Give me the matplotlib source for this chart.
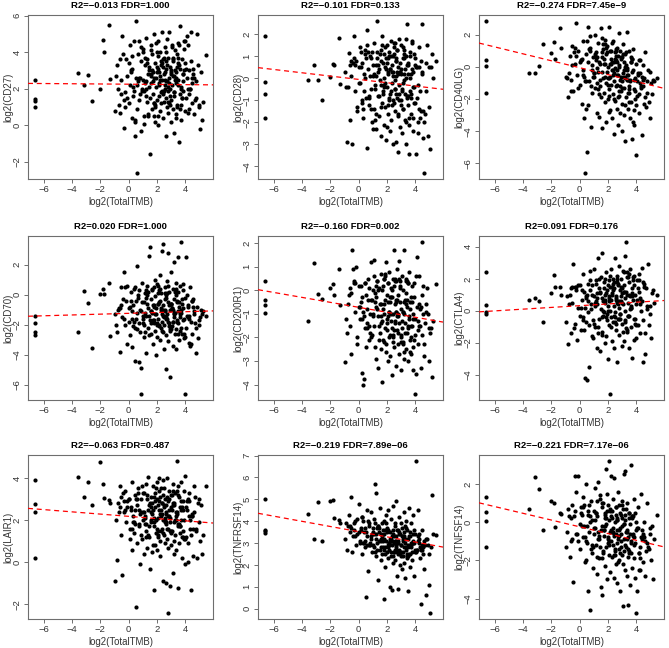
import matplotlib
matplotlib.use('Agg')
import matplotlib.pyplot as plt
import numpy as np

plt.rcParams['font.family'] = ['Liberation Sans', 'DejaVu Sans']

# TotalTMB (shared by all panels): low-TMB outliers first, then the bulk
tmb_low = [-6.64, -6.64, -6.64, -6.64, -3.55, -3.15, -2.85, -2.6, -2.05, -1.8, -1.75, -1.35, -1.3]
tmb_bulk = [
    -0.95, -0.82, -0.71, -0.64, -0.52, -0.45, -0.33, -0.27, -0.18, -0.09, 0.02, 0.08, 0.14, 0.21,
    0.27, 0.33, 0.38, 0.44, 0.51, 0.57, 0.62, 0.68, 0.74, 0.79, 0.85, 0.91, 0.96, 1.03,
    1.07, 1.12, 1.16, 1.22, 1.27, 1.31, 1.36, 1.41, 1.45, 1.49, 1.54, 1.58, 1.62, 1.66,
    1.69, 1.73, 1.77, 1.80, 1.84, 1.87, 1.91, 1.94, 1.98, 2.01, 2.04, 2.07, 2.11, 2.14,
    2.17, 2.20, 2.23, 2.26, 2.29, 2.32, 2.35, 2.38, 2.41, 2.44, 2.47, 2.50, 2.53, 2.56,
    2.59, 2.62, 2.65, 2.68, 2.71, 2.74, 2.77, 2.80, 2.83, 2.86, 2.89, 2.92, 2.95, 2.98,
    3.01, 3.04, 3.07, 3.10, 3.13, 3.16, 3.19, 3.22, 3.25, 3.28, 3.31, 3.34, 3.37, 3.40,
    3.43, 3.47, 3.51, 3.55, 3.59, 3.63, 3.67, 3.71, 3.75, 3.79, 3.83, 3.88, 3.93, 3.98,
    4.03, 4.09, 4.15, 4.21, 4.28, 4.35, 4.42, 4.50, 4.58, 4.66, 4.75, 4.85, 4.96, 5.08,
    -0.88, -0.41, -0.12, 0.11, 0.47, 0.71, 0.93, 1.19, 1.39, 1.61, 1.83, 2.02, 2.24, 2.46,
    2.63, 2.79, 2.94, 3.09, 3.24, 3.39, 3.53, 3.69, 3.86, 4.05, 4.24, 4.47, 4.71, 5.21,
    -0.6, 0.35, 0.58, 1.25, 1.72, 2.09, 2.36, 2.57, 2.73, 3.15, 3.45, 3.78, 4.38, 5.5,
    0.16, 0.42, 0.66, 0.88, 1.09, 1.29, 1.47, 1.64, 1.79, 1.96, 2.12, 2.27, 2.42, 2.58,
    2.69, 2.84, 2.97, 3.12, 3.27, 3.42, 3.58, 3.73, 3.91, 4.12, 4.31, 4.55, 4.91, 5.28,
    -0.75, -0.22, 0.24, 0.55, 0.82, 1.14, 1.34, 1.56, 1.76, 1.89, 2.06, 2.19, 2.31, 2.49,
    2.61, 2.76, 2.88, 3.03, 3.18, 3.33, 3.49, 3.65, 3.82, 3.96, 4.18, 4.4, 4.62, 5.0,
    -0.35, 0.06, 0.49, 0.77, 1.01, 1.21, 1.43, 1.6, 1.82, 2.0, 2.15, 2.34, 2.52, 2.67,
    2.82, 3.0, 3.2, 3.36, 3.52, 3.68, 3.85, 4.0, 4.26, 4.52, 4.8, 5.15, -0.5, 1.0]
tmb = np.array(tmb_low + tmb_bulk)

genes = ['CD27', 'CD28', 'CD40LG', 'CD70', 'CD200R1', 'CTLA4', 'LAIR1', 'TNFRSF14', 'TNFSF14']
r2_txt = ['\u22120.013', '\u22120.101', '\u22120.274', '0.020', '\u22120.160', '0.091',
          '\u22120.063', '\u22120.219', '\u22120.221']
fdr_txt = ['1.000', '0.133', '7.45e\u22129', '1.000', '0.002', '0.176', '0.487',
           '7.89e\u221206', '7.17e\u221206']
# fitted lines: intercept, slope
fit_a = [2.25, -0.05, -0.05, -1.24, -0.72, 0.32, 2.18, 3.52, -0.24]
fit_b = [-0.006, -0.075, -0.215, 0.027, -0.105, 0.054, -0.053, -0.118, -0.176]
yticks = [[-2, 0, 2, 4, 6], [-4, -3, -2, -1, 0, 1, 2], [-6, -4, -2, 0, 2], [-6, -4, -2, 0, 2],
          [-4, -3, -2, -1, 0, 1, 2], [-4, -2, 0, 2, 4], [-2, 0, 2, 4], [0, 1, 2, 3, 4, 5, 6, 7],
          [-4, -2, 0, 2]]

cd27 = [2.5, 1.45, 1.35, 1.0, 2.85, 2.2, 2.75, 1.35, 2.0, 4.65, 4.0, 5.5, 2.55,
    0.8, 3.3, 1.1, 0.7, 2.5, 4.9, -0.15, 1.8, 3.6, 2.7, 1.2, 4.4, 2.9, 0.4,
    3.1, 1.6, 4.6, 0.3, 5.7, 2.2, 0.9, 3.9, 1.4, 2.6, -0.3, 3.5, 2.0, 4.2,
    1.9, 0.1, 3.7, 2.4, 4.8, 1.3, 2.8, 0.6, 3.2, -1.55, 1.5, 4.1, 2.3, 0.9,
    3.0, 1.7, 5.0, 2.6, 0.2, 3.4, 1.0, 2.1, 4.5, 1.4, 2.9, 0.5, 3.8, 2.2,
    1.6, 4.0, 2.7, 0.8, 3.3, 1.2, 2.5, 5.1, 1.8, 3.6, 0.4, 2.8, 1.3, 4.3,
    2.0, -0.6, 3.1, 1.5, 4.7, 2.4, 0.7, 3.7, 1.9, 2.6, 5.1, 1.1, 3.2, 0.2,
    2.9, 1.4, 4.4, 2.2, 0.9, 3.5, -0.4, 2.7, 1.6, 4.1, 3.0, 0.6, 2.3, 3.9,
    1.0, 4.5, 2.5, -0.9, 3.3, 1.7, 5.45, 2.1, 0.3, 3.6, 1.9, 2.8, 4.2, 0.8,
    3.4, 1.5, 2.6, 4.4, 0.9, 2.0, 5.1, 1.2, 3.1, 0.6, 2.4, 5.0, 1.0, -0.2,
    2.7, 3.9, 1.5, 2.2, -0.6, 4.6, 1.9, 3.3, 0.5, 2.8, 1.2, 4.0, 2.5, 1.7,
    3.5, 1.3, 2.0, 4.3, 1.8, 2.9, 3.7, 1.1, 2.4, 3.1, 0.7, 2.6, 1.4, 0.3,
    3.6, 2.1, -2.6, 1.6, 2.9, 0.0, 3.4, 2.2, 1.0, 2.7, 3.2, 1.5, 2.0, 3.85,
    3.0, 1.9, 2.4, 4.3, 0.5, 3.4, 2.1, 3.9, 1.2, 2.6, 4.6, 1.8, 3.2, 2.9,
    4.0, 2.3, 1.6, 3.7, 2.5, 1.1, 4.4, 2.0, 3.0, 4.9, 1.7, 2.8, 3.3, 1.3,
    2.0, 1.0, 3.8, 2.6, 1.7, 2.3, 3.6, 4.4, 2.4, 1.1, 3.1, 2.9, 3.5, 1.9,
    2.5, 3.3, 1.2, 2.8, 3.6, 0.4, 2.2, 3.1, 1.5, 4.6, 2.0, 3.5, 2.6, 1.1,
    1.4, 3.4, 0.2, 2.6, 4.0, 2.0, 3.0, 2.7, 0.5, 3.2, 2.3, 1.9, 3.7, 2.4,
    2.1, 3.0, 1.8, 2.6, 3.4, 0.9, 2.8, 4.6, 3.0, 2.3, 1.5, 2.9, 1.7, 2.5]
cd28 = [1.9, -0.15, -0.7, -1.8, -0.1, 0.6, -0.1, -1.0, 0.05, 0.65, 0.6, 1.85, -0.25,
    0.3, -2.9, 1.15, -1.9, 0.1, -3.0, 1.9, -0.6, 0.8, -1.5, 0.5, -0.2, 1.2, -1.0,
    0.7, -1.8, 0.2, 1.3, -0.9, 2.2, -3.15, 0.4, -1.2, 1.0, -0.5, 0.9, -2.0, 0.1,
    -1.4, 1.6, -0.3, 0.6, -2.3, 2.6, -0.8, 0.3, -1.7, 1.1, -0.1, -2.6, 0.8, -1.1,
    1.9, -0.6, 0.0, -2.1, 1.4, -1.3, 0.5, -2.8, 0.9, -0.4, 1.5, -1.6, 0.2, -0.9,
    1.2, -2.4, 0.4, -0.7, 1.7, -1.9, 0.6, -0.2, 1.0, -3.0, 0.3, -1.1, 1.6, -0.5,
    -1.5, 0.8, -2.9, 0.1, 1.3, -0.9, -3.35, 0.5, -1.7, 1.8, -0.3, 0.7, -2.2, 0.2,
    -1.0, 1.5, -0.6, -2.5, 0.9, -1.4, 0.2, -0.1, 1.1, -1.9, 0.4, -3.0, 1.8, -0.8,
    2.45, -1.2, 0.6, -2.1, -3.45, 0.0, 1.0, -0.7, -1.6, 1.7, 0.3, -2.4, -0.4, 0.9,
    -1.1, -3.45, 0.5, -2.0, 1.4, -0.6, -1.5, 2.45, -2.7, -4.3, 0.7, 1.5, -1.3, -3.2,
    -0.4, 0.7, -1.3, 1.4, 0.0, -0.8, 1.2, -1.9, 0.6, -0.3, 1.1, -2.2, 0.4, -1.0,
    0.9, -1.6, 0.3, -0.5, 1.3, -2.0, 0.7, -0.9, -1.8, 0.5, -2.5, 0.2, -1.6, 1.1,
    0.6, -1.4, 1.5, 0.1, -0.7, 0.9, -1.2, 1.6, 0.3, -0.2, -0.9, 0.4, -1.8, 0.8,
    0.5, -0.6, 1.2, -1.4, 0.2, 0.9, -0.8, 1.5, -0.3, 0.4, -1.2, 1.0, 0.1, -0.5,
    0.8, -1.0, 0.3, 1.4, -0.7, 0.6, -1.8, 0.2, 1.1, -0.9, 0.5, -1.5, -2.6, 0.0,
    -0.4, 0.6, -1.1, 0.9, 0.1, -0.5, 1.2, -1.3, 0.7, -0.2, 0.3, 1.0, -0.6, 1.4,
    -0.1, 1.3, -0.7, 0.4, -1.4, 1.0, 0.2, -0.6, 1.6, -1.1, -0.3, 0.8, -2.0, 0.5,
    0.9, -0.2, 1.1, -0.9, 0.6, -1.6, 0.4, 1.3, -0.4, 0.7, -1.0, 0.3, 1.1, -0.7,
    0.2, -1.2, 0.9, 0.0, -0.8, 1.2, -0.4, 0.6, -1.4, 0.3, -0.6, 0.5, 0.8, -2.3]
cd40lg = [2.85, 0.4, 0.05, -1.65, -0.4, -0.4, 0.05, 1.45, 0.85, 1.55, 0.5, 2.4, 1.2,
    -0.6, -1.9, 0.7, -0.8, 1.3, -1.5, 0.2, 2.7, -0.5, 1.0, -1.1, 0.4, -2.3, 1.6,
    -0.2, -3.2, -6.6, 0.8, -5.3, -2.4, 2.5, -0.9, 1.2, -3.75, 0.1, -1.6, 0.6, -0.4,
    2.0, -1.3, 0.9, -2.9, -0.1, 1.5, -3.1, 0.3, -0.8, 2.4, -1.9, 0.6, -3.8, 1.1,
    -0.7, 0.2, -2.2, 1.7, -1.0, -3.4, 0.8, -0.3, 1.3, -2.0, 0.0, -1.4, 2.5, -0.6,
    -2.7, 0.5, -1.1, 1.0, -3.2, -0.2, 1.6, -1.7, 0.3, -0.9, -4.2, 0.9, -2.1, 0.4,
    -1.2, 1.2, -2.6, -0.5, 0.7, -3.6, -1.8, 0.1, 2.1, -0.8, -2.9, 0.5, -1.5, -4.0,
    0.6, -2.3, -0.4, 1.4, -1.3, -3.0, 0.0, -0.7, -4.6, 0.9, -1.9, -0.2, 2.2, -2.6,
    -0.5, -1.6, 1.0, -3.2, -0.9, 0.3, -2.2, -4.5, -0.3, 1.1, -1.4, -2.7, -0.7, 0.2,
    -5.5, -1.8, -0.5, -2.9, 0.4, -1.3, -4.25, -0.8, -2.3, 0.9, -1.6, -0.2, -3.2, -1.0,
    -0.7, 0.9, -1.3, 0.4, -2.6, 1.9, -0.6, 0.6, -1.7, -0.3, 1.4, -1.1, 0.2, -2.0,
    0.3, -1.5, -0.6, 0.8, -2.4, -0.1, -1.2, 0.5, -3.6, -0.9, -1.7, 0.1, -2.5, -0.8,
    -1.5, -0.6, 0.3, -1.0, 0.5, -2.8, -0.5, 1.0, -1.9, -0.2, -0.8, -3.4, -1.2, -0.7,
    0.5, -0.9, 1.1, -0.2, 0.8, -1.4, 0.2, 1.4, -0.6, 0.9, -1.8, 0.3, -0.4, 1.1,
    -0.2, -1.2, 0.6, -0.6, 0.1, -1.6, -0.8, 0.5, -2.0, -0.4, -1.0, -0.7, -2.2, -0.9,
    -0.4, 0.7, -0.5, 1.6, -1.2, 0.4, -0.3, 0.9, -1.6, 1.2, -0.7, 0.2, 1.5, -0.1,
    0.7, -0.5, 1.0, -1.3, 0.3, -0.8, -2.2, 0.6, -0.2, -1.5, 0.4, -0.6, -1.9, -0.3,
    1.2, 0.3, -0.9, 1.0, -0.4, 0.6, -1.2, 1.8, 0.2, -0.7, 1.0, -0.2, 0.5, -1.1,
    0.0, -0.9, 0.8, -0.5, -1.4, 0.3, -0.8, -2.4, -0.4, -1.2, -0.9, -1.7, 0.1, -0.6]
cd70 = [-1.45, -1.85, -2.5, -2.7, -2.45, 0.27, -0.58, -3.56, 0.04, 0.36, 0.04, 0.76, -2.77,
    -1.3, -2.5, -0.9, -3.8, 0.5, -1.5, 1.5, -2.0, -0.4, 0.6, -1.8, -2.7, 0.2, -1.1,
    -3.5, -0.7, 0.4, -4.4, -1.6, 1.9, -2.3, -0.2, -4.5, -1.0, -6.6, -4.9, 0.8, -1.9,
    -0.5, -2.8, 0.1, -1.4, -3.9, 0.6, -0.9, -2.2, 2.6, -1.7, 3.2, -0.3, -2.6, -1.2,
    0.4, -3.3, -0.8, -1.9, 1.0, -2.4, -0.1, -4.0, -1.3, 0.7, -2.8, -0.6, -1.6, 0.3,
    -2.1, -0.4, 1.3, -3.0, -1.0, 0.1, -1.8, 2.9, -2.5, -0.7, 3.35, -1.4, -3.6, 0.5,
    -1.1, -0.2, -2.7, -4.95, 0.9, -1.6, -0.5, -3.1, 2.8, -1.9, 0.2, -5.5, -1.0, -2.3,
    -0.6, 1.5, -2.1, -0.9, -3.4, 0.4, -1.5, -0.3, 2.2, -2.6, -1.2, 0.8, -3.6, -1.7,
    -0.4, 2.5, -1.9, -0.8, -3.0, 0.6, -1.3, 3.5, -2.2, -0.6, 0.3, -1.7, -2.9, -0.2,
    -6.6, 2.5, -1.4, -0.7, -3.2, 0.5, -1.8, -2.6, -0.3, -1.1, -3.9, -0.8, -2.0, -1.5,
    -2.0, -0.3, -3.3, -0.8, 0.5, -1.9, -0.5, -2.5, 0.2, -1.1, -0.7, -2.0, 0.4, -1.4,
    -1.6, 0.6, -2.3, -0.9, -1.3, 0.0, -2.6, -1.0, 0.7, -2.2, -1.5, -0.4, -1.9, -1.3,
    -0.9, -2.1, -1.2, 0.3, -1.7, -0.6, -2.4, -1.0, 0.1, -1.8, -0.5, -2.6, -3.4, -1.4,
    -0.4, -1.8, 0.0, -1.1, -2.0, -0.6, -1.4, 0.3, -1.7, -0.9, 0.1, -2.2, -1.0, -0.3,
    -1.5, -0.7, -2.4, -1.0, 0.2, -1.8, -0.5, -1.2, -2.6, 0.0, -1.6, -0.8, -2.9, -1.1,
    -1.0, 0.5, -1.6, -0.4, -2.5, -1.2, 0.0, -1.9, -0.7, -1.3, 0.6, -2.0, -0.9, -1.5,
    0.1, -1.3, -2.1, -0.6, -1.8, 0.4, -1.1, -2.4, -0.3, -1.6, -0.8, -3.3, -1.3, -1.7,
    -1.6, -0.9, -2.2, 0.3, -1.4, -0.2, -2.7, -1.1, 0.5, -1.9, -0.5, -1.3, -2.0, 0.0,
    -1.8, -0.6, -1.2, -2.3, 0.2, -1.5, -0.9, -2.8, -1.4, -0.4, -2.2, -1.0, -0.7, -1.6]
cd200r1 = [0.4, -0.41, -0.62, -0.95, -1.3, 1.18, -0.16, -0.35, 0.11, 0.26, -0.18, 0.91, -0.62,
    -3.05, -1.8, -0.2, -1.5, -2.7, 1.7, 0.4, -0.9, 1.0, -2.3, 0.2, -1.2, -0.5, -0.3,
    -3.5, -4.0, -3.75, 0.3, -2.4, -0.8, -1.6, 0.5, -2.1, -1.0, 1.2, -0.4, -1.9, 0.0,
    1.3, -1.5, -0.1, -2.9, -0.7, 0.4, -1.1, -3.3, 0.1, -1.8, -0.6, 0.7, -2.5, -1.3,
    -3.9, 0.2, -1.0, -2.2, 0.6, -0.4, -1.6, 1.2, -2.6, -0.2, -1.2, 0.3, -3.0, -0.9,
    0.8, -1.9, -0.5, -2.8, 0.1, -1.3, -3.6, -0.3, 0.5, -2.0, -1.0, 1.7, -2.4, -0.6,
    -1.4, 0.4, -3.2, -0.9, -1.7, 0.9, -2.3, -0.2, -1.1, 1.25, -2.7, -0.5, 0.2, -1.9,
    -3.4, -0.8, 0.6, -1.6, -2.2, 0.0, -1.0, 1.7, -2.9, -0.4, -1.4, 0.5, -2.5, -0.7,
    -1.8, 0.3, -3.0, -1.1, 0.8, -2.1, -0.5, -1.5, -2.7, 0.2, -1.2, -3.4, -0.3, -1.9,
    -4.4, -3.55, 1.4, -2.3, 0.6, -1.5, -3.3, 2.05, -1.0, -2.8, -0.6, 0.1, -3.0, -1.8,
    -1.2, 0.9, -2.0, -0.7, 0.3, -1.5, -0.4, -2.4, 0.0, -1.1, 0.5, -1.7, -0.3, -2.2,
    -0.9, -1.8, 0.4, -1.3, -2.6, -0.6, 0.3, -2.0, -1.0, 0.6, -1.7, -0.2, -1.4, -3.7,
    0.1, -0.9, -1.4, 0.2, -2.1, -0.5, -1.6, 0.4, -1.1, -2.3, -0.4, -1.5, -0.8, 0.25,
    0.2, -1.1, -0.4, -2.0, 0.6, -0.8, -1.5, 0.0, -0.6, -2.3, 0.3, -1.0, -1.9, 0.5,
    -0.5, -1.4, 0.1, -0.9, -1.8, 0.4, -1.2, -0.3, -2.1, -0.7, -1.5, 0.2, -1.0, -1.3,
    -0.6, 0.3, -1.2, -0.2, -1.8, -0.5, 0.4, -1.4, -0.8, 0.7, -1.1, -2.0, -0.3, 0.2,
    -1.3, -0.4, 0.5, -2.2, -0.9, -0.1, -1.6, -2.6, -0.5, 0.3, -1.3, -0.7, -2.3, -1.6,
    0.3, -0.7, -1.6, 0.1, -1.0, -0.3, -2.1, -0.6, 0.5, -1.4, -0.9, 0.0, -1.7, -0.4,
    -1.0, -2.0, -0.5, 0.4, -1.5, -0.8, -2.4, -1.2, -0.6, -1.9, -0.9, -1.6, -0.1, -1.1]
ctla4 = [2.4, 0.34, -0.06, -0.17, 0.67, 0.8, 0.61, -0.67, 1.09, 2.23, 1.51, 1.51, 1.0,
    -0.7, -2.1, 1.0, -1.4, 0.5, 2.9, -0.8, 1.5, -1.8, 0.2, 1.6, -1.2, 0.7, 2.3,
    -0.4, 1.2, -4.2, 0.9, -4.35, 1.7, -0.1, -3.5, 2.5, 0.4, -1.6, 1.0, -0.6, 2.6,
    -1.0, 0.3, 1.9, -2.3, 0.8, 3.3, -0.5, 1.4, -2.5, 0.1, 2.1, -1.3, 3.6, 0.6,
    -0.3, 1.8, -2.0, 0.5, 1.1, -1.6, 2.4, -0.2, 1.3, -3.0, 0.0, 1.9, -0.9, -5.2,
    1.5, -0.4, 2.6, 0.7, -1.9, 1.0, -0.7, 2.0, 0.3, -2.3, 1.4, -0.1, 3.3, 0.8,
    -1.2, 2.2, -3.2, 0.6, 1.7, -0.5, 2.8, 0.2, -1.5, 1.3, -0.2, 2.0, 0.9, -2.2,
    1.1, -0.8, 2.5, 0.4, -1.9, 1.6, 3.4, 0.0, -0.6, 4.3, 1.2, -1.3, 2.1, 0.5,
    -0.3, 1.8, -2.3, 0.9, 2.6, -1.0, 0.3, 1.4, -2.95, 0.7, 2.2, -0.5, 1.0, -1.7,
    0.4, 1.9, -0.9, 2.3, -1.4, 0.6, 2.7, -3.2, 1.5, -2.7, 0.1, 2.9, -0.2, -1.7,
    0.9, -1.1, 1.6, 0.2, -0.7, 1.3, -1.7, 0.6, 2.0, -0.4, 1.0, 0.3, -1.0, 1.8,
    0.5, -0.5, 1.5, -1.3, 0.8, 2.4, -0.3, 1.1, -1.8, 0.7, 1.9, -0.6, 1.4, 1.3,
    1.4, -1.2, 0.6, 1.1, -0.1, 0.8, 1.7, -0.8, 0.4, 1.2, -0.3, 2.1, 0.0, 1.0,
    1.3, 0.2, -0.9, 1.6, 0.5, -1.4, 1.1, 0.0, 2.0, -0.6, 0.9, 1.5, -0.3, 0.7,
    1.8, -0.5, 0.6, 1.2, -1.1, 2.1, 0.1, 0.9, -0.8, 1.4, 0.4, 1.7, -0.9, 0.5,
    0.4, 1.3, -0.6, 1.0, 0.1, 1.7, -1.0, 0.8, 1.4, -0.4, 0.6, 2.2, 1.1, -0.7,
    0.9, 1.6, -0.2, 0.5, 2.4, -1.2, 1.0, 0.2, 1.9, -0.5, 1.2, 0.6, -1.4, 0.3,
    1.5, -0.3, 0.8, 1.9, -0.8, 0.4, 1.2, -1.5, 0.7, 1.6, 0.0, 1.3, -0.4, 2.0,
    0.6, 1.4, -0.7, 1.0, 2.3, 0.2, 1.6, -0.9, 0.8, 1.8, 0.3, 1.1, 1.5, 0.9]
lair1 = [3.92, 2.76, 2.4, 0.21, 4.03, 3.08, 3.79, 2.73, 4.75, 3.7, 3.05, 2.94, 2.83,
    -0.9, 0.1, 2.4, 3.6, 1.3, -0.6, 2.9, 3.4, 1.9, 2.6, 3.0, 1.6, 2.5, 3.8,
    0.6, 2.2, 1.4, 3.2, -2.1, 2.7, 0.9, 3.5, 1.8, -0.1, 2.4, 3.0, 1.1, 2.0,
    3.3, 0.4, 2.1, 1.5, 3.7, 0.7, 2.5, 4.05, 1.2, -0.3, 2.8, 1.9, 3.1, 0.5,
    2.3, 3.6, -1.3, 1.7, 2.6, 0.8, 3.3, 1.4, 2.0, 3.8, 0.6, 2.7, 1.2, 4.0,
    2.5, 1.0, 3.1, 0.3, 2.2, 3.5, 1.6, 2.8, -0.9, 2.0, 3.9, 1.3, 2.6, 0.9,
    3.0, 1.8, -1.0, 2.4, 4.0, 1.1, -2.4, 2.9, 0.7, 2.2, 3.4, -1.1, 1.9, 2.6,
    0.8, 3.2, 1.5, 2.5, -0.5, 3.7, 1.9, 0.4, 2.7, 1.3, 3.3, 2.0, 0.6, 4.8,
    2.4, -1.2, 1.7, 3.1, 0.9, 2.6, 1.4, 3.8, 2.0, 0.2, 2.9, 1.5, 3.4, -0.1,
    4.1, 1.2, 2.5, 0.0, 3.3, 1.6, -1.3, 2.2, 0.3, 3.6, 1.5, 0.2, 3.0, 1.0,
    2.0, 3.3, 2.9, 1.1, 2.5, 1.7, 3.6, 2.2, 1.3, 2.6, 1.9, 3.0, 2.3, 1.4,
    2.7, 1.6, 2.1, 3.2, 1.0, 2.4, 1.8, 2.9, 1.2, 2.6, 0.9, 2.2, 3.1, 0.4,
    2.6, 1.9, 3.0, 1.8, 2.5, 1.3, 2.8, 2.1, 1.6, 3.4, 2.3, 1.2, 2.0, 3.6,
    2.6, 1.9, 3.3, 1.3, 2.4, 3.0, 1.7, 2.8, 2.1, 3.5, 1.5, 2.5, 3.2, 1.9,
    2.3, 3.0, 1.5, 2.7, 2.0, 3.4, 1.8, 2.5, 1.1, 2.9, 2.2, 1.6, 2.8, 1.3,
    2.8, 2.5, 1.6, 3.0, 2.3, 1.8, 3.2, 2.4, 0.8, 2.9, 2.1, 3.4, 1.5, 2.7,
    2.0, 3.1, 2.5, 1.4, 2.8, 2.2, 3.6, 1.7, 2.6, 2.0, 3.0, 1.3, 2.4, 1.9,
    2.4, 3.0, 1.8, 2.5, 3.3, 1.2, 2.7, 2.0, 3.1, 1.6, 2.9, 2.3, 3.5, 1.9,
    2.2, 1.5, 2.8, 2.0, 3.2, 1.7, 2.5, 1.1, 2.9, 2.3, 1.6, 2.7, 3.1, 2.4]
tnfrsf14 = [5.0, 3.6, 3.55, 3.47, 4.33, 3.2, 4.87, 3.1, 4.91, 4.97, 4.15, 4.05, 3.92,
    3.2, 2.7, 4.3, 3.8, 5.1, 2.6, 3.6, 4.0, 2.9, 3.4, 4.8, 3.1, 3.7, 2.5,
    4.2, 3.0, 3.5, 2.8, 0.55, 4.5, 3.3, 1.7, 3.9, 2.9, 4.4, 3.2, 2.6, 3.7,
    4.1, 3.4, 5.7, 2.4, 5.3, 3.0, 3.8, 1.3, 3.5, 2.7, 4.6, 3.1, 2.2, 3.9,
    3.3, 2.8, 4.0, 0.45, 2.5, 3.6, 1.9, 4.3, 3.1, 2.6, 3.7, 2.3, 4.5, 3.0,
    2.7, 3.5, 1.0, 3.2, 2.4, 4.1, 2.9, 0.85, 3.4, 2.1, 4.7, 3.0, 2.6, 3.8,
    2.2, 3.3, 4.9, 2.8, 1.5, 3.6, 2.5, 3.1, 0.9, 4.2, 2.7, 3.4, 2.0, 3.9,
    2.9, 2.4, 3.7, 1.8, 3.2, 2.6, 4.4, 2.1, 3.5, 1.4, 3.0, 4.0, 2.7, 2.3,
    3.6, 0.8, 2.9, 4.6, 2.5, 3.3, 1.9, 3.9, 2.8, 2.2, 4.3, 3.1, 1.5, 2.6,
    3.4, 6.75, 2.7, 4.5, 3.0, 2.3, 0.2, 3.6, 2.8, 1.8, 0.6, 3.2, 1.1, -0.2,
    3.9, 3.3, 4.1, 3.0, 3.7, 2.9, 3.4, 2.6, 3.8, 3.2, 2.7, 3.5, 3.1, 2.4,
    2.9, 3.6, 2.5, 3.3, 2.8, 3.7, 2.4, 3.0, 3.4, 2.6, 3.1, 2.7, 2.9, 5.2,
    3.5, 4.0, 2.9, 3.2, 3.6, 2.8, 3.1, 3.9, 2.6, 3.3, 2.5, 3.0, 2.8, 3.35,
    3.6, 3.0, 4.0, 3.3, 2.8, 3.7, 3.1, 2.5, 3.4, 3.9, 2.9, 3.2, 3.6, 2.7,
    3.0, 3.5, 2.6, 3.1, 3.8, 2.4, 3.3, 2.9, 3.6, 2.7, 3.2, 2.5, 2.9, 3.4,
    3.8, 3.3, 4.2, 3.5, 3.0, 3.9, 2.7, 3.4, 3.1, 2.8, 3.6, 3.0, 2.6, 3.3,
    3.1, 2.7, 3.4, 2.9, 2.4, 3.2, 2.8, 3.5, 2.6, 3.0, 3.3, 2.7, 3.1, 2.5,
    3.9, 3.5, 3.1, 3.8, 2.9, 3.4, 3.7, 2.8, 3.2, 3.6, 2.9, 3.3, 2.6, 3.1,
    3.0, 2.6, 3.3, 2.8, 3.2, 2.5, 3.0, 2.7, 3.4, 2.9, 3.2, 2.8, 3.7, 3.5]
tnfsf14 = [1.3, 0.54, 0.07, -1.3, 0.7, 2.38, 1.76, -0.4, 1.13, 0.99, -0.23, 0.47, 0.42,
    -1.3, 0.7, -1.8, 0.2, -0.9, -3.15, 2.4, 1.6, -0.6, 2.4, -1.4, 0.5, -0.2, 1.3,
    -0.8, 0.9, -2.1, 2.0, -1.1, -3.6, 0.4, -0.5, -4.6, 1.1, -1.6, 0.1, -2.4, 0.6,
    -0.3, 1.8, -1.2, -2.7, 0.3, 2.1, -0.9, -1.9, 1.4, -3.4, -0.4, 0.8, -3.8, -1.5,
    1.0, -0.7, -2.3, 0.5, 2.8, -1.3, -0.1, 1.5, -3.0, -0.8, 0.9, -1.7, 3.2, -0.5,
    -2.6, 0.3, -1.0, 2.4, -1.8, 0.6, -0.3, 1.2, -2.9, -0.6, 2.3, -1.4, 0.0, -2.2,
    0.8, -1.1, -3.2, 0.2, -0.7, 1.6, -2.0, -0.4, 0.9, -1.6, -3.6, 0.4, -1.0, 1.1,
    -0.2, -1.7, 0.7, -4.4, 2.5, -0.9, -2.5, 0.1, 2.7, -1.3, -0.5, 1.0, -2.8, -0.8,
    -4.35, 0.5, -1.5, -0.1, -3.3, 3.0, -1.0, -2.4, 0.3, -0.6, 1.2, -1.9, -2.9, -0.4,
    -4.75, -3.6, 0.8, -1.6, -2.5, 1.5, -0.9, -2.1, 0.0, -2.8, 1.0, -1.3, -0.3, -2.0,
    -0.5, 0.3, -1.0, 0.8, -2.0, 0.0, -1.3, 0.5, -0.7, -1.9, 0.2, -1.1, -0.4, -1.7,
    0.1, -1.4, -0.6, -2.2, 0.4, -0.9, -1.6, 0.2, -1.2, -0.3, -2.5, -0.7, -1.5, -3.0,
    -1.0, -0.2, 0.6, -1.8, -0.4, 0.1, -1.2, -0.6, -2.1, -0.1, -1.4, 0.3, -0.8, 0.4,
    0.4, -0.8, 0.9, -1.2, 0.1, -0.5, 1.2, -1.6, -0.2, 0.6, -1.0, 0.2, -0.7, 0.8,
    -0.4, 0.5, -1.3, -0.1, 0.7, -1.8, -0.6, 0.3, -1.1, -0.3, -1.9, -0.8, -1.4, -0.9,
    0.3, -0.6, 0.8, -0.2, -1.4, 0.5, -0.9, 1.0, -0.4, 0.2, -1.2, 0.6, -0.5, -1.7,
    0.4, -0.9, -0.3, 0.9, -1.5, -0.5, 0.2, -1.1, -0.7, 0.5, -1.6, -0.4, -1.0, -0.6,
    0.6, -0.1, -1.0, 0.3, -0.6, 1.1, -1.3, -0.2, 0.4, -0.9, 0.7, -0.5, -1.5, 0.1,
    -0.7, 0.2, -1.2, -0.4, 0.5, -1.6, -0.8, 0.0, -1.3, -0.6, -1.1, -0.2, 0.9, -0.3]
expr = [cd27, cd28, cd40lg, cd70, cd200r1, ctla4, lair1, tnfrsf14, tnfsf14]

W, H = 669, 648
fig = plt.figure(figsize=(W/100, H/100), dpi=100)
col_left = [28, 258, 479]
row_top = [15, 236, 455]
bw, bh = 185, 164

def rlim(v):
    lo, hi = np.min(v), np.max(v)
    r = hi - lo
    return lo - 0.04*r, hi + 0.04*r

xl = rlim(tmb)
edge = '#6e6e6e'
for k in range(9):
    i, j = divmod(k, 3)
    ax = fig.add_axes([col_left[j]/W, 1 - (row_top[i] + bh)/H, bw/W, bh/H])
    y = np.array(expr[k])
    ax.scatter(tmb, y, s=9, c='black', linewidths=0, zorder=2)
    xs = np.array(xl)
    ax.plot(xs, fit_a[k] + fit_b[k]*xs, color='red', ls=(0, (4, 3)), lw=0.9, zorder=3)
    ax.set_xlim(*xl)
    ax.set_ylim(*rlim(y))
    ax.set_xticks([-6, -4, -2, 0, 2, 4])
    ax.set_yticks(yticks[k])
    for s in ax.spines.values():
        s.set_color(edge)
        s.set_linewidth(0.8)
    ax.tick_params(direction='out', length=3, width=0.7, color=edge, pad=1.5,
                   labelsize=6.8, labelcolor='#333333')
    ax.tick_params(axis='y', labelrotation=90)
    for lab in ax.get_yticklabels():
        lab.set_va('center')
    ax.set_xlabel('log2(TotalTMB)', fontsize=6.9, color='#333333')
    ax.set_ylabel('log2(%s)' % genes[k], fontsize=6.9, color='#333333')
    ax.xaxis.label.set_va('center')
    ax.yaxis.label.set_va('center')
    ax.xaxis.set_label_coords(0.5, -23/bh)
    ax.yaxis.set_label_coords(-20/bw, 0.5)
    ax.text(0.5, 1 + 9/bh, 'R2=%s FDR=%s' % (r2_txt[k], fdr_txt[k]), transform=ax.transAxes,
            ha='center', va='center', fontsize=6.8, fontweight='bold')

fig.savefig('out.png', dpi=100)
